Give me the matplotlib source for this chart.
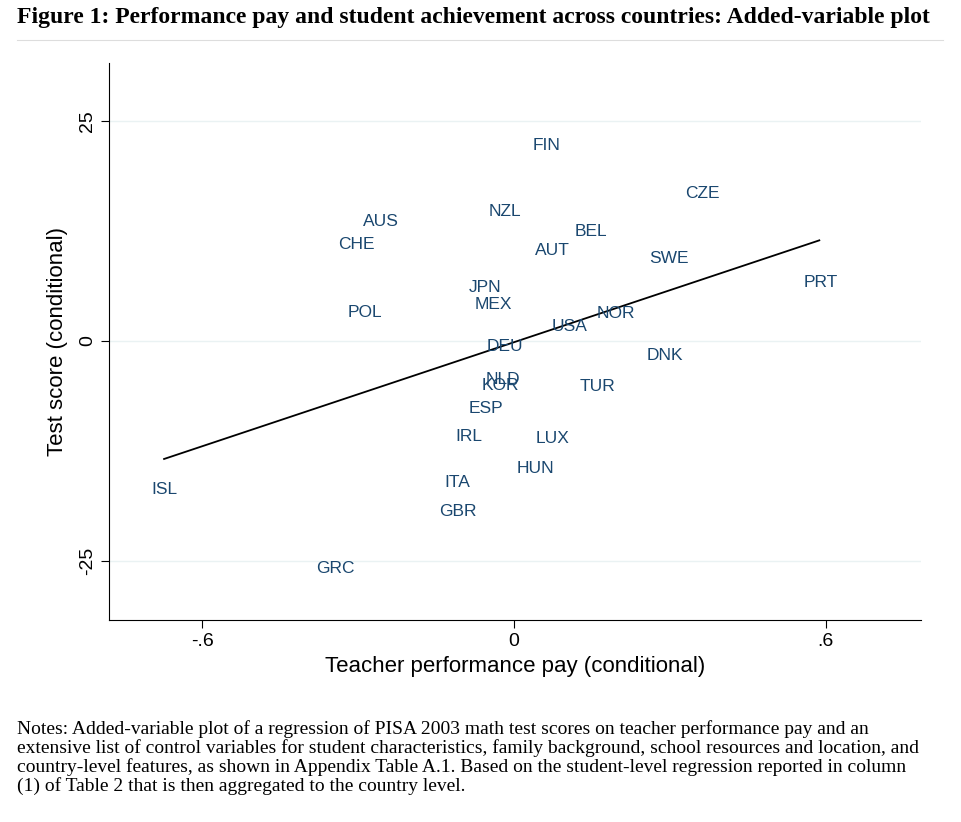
import matplotlib.pyplot as plt

countries = ["FIN", "CZE", "AUS", "NZL", "BEL", "CHE", "AUT", "SWE", "PRT", "JPN",
             "MEX", "POL", "NOR", "USA", "DEU", "DNK", "NLD", "KOR", "TUR", "ESP",
             "IRL", "LUX", "HUN", "ISL", "ITA", "GBR", "GRC"]
pay = [0.063, 0.362, -0.256, -0.017, 0.148, -0.302, 0.075, 0.298, 0.590, -0.056,
       -0.040, -0.287, 0.196, 0.108, -0.017, 0.290, -0.021, -0.025, 0.162, -0.054,
       -0.087, 0.075, 0.042, -0.673, -0.108, -0.108, -0.344]
score = [22.2, 16.8, 13.6, 14.7, 12.4, 11.0, 10.3, 9.4, 6.7, 6.1,
         4.1, 3.3, 3.1, 1.6, -0.6, -1.6, -4.4, -5.1, -5.2, -7.7,
         -10.8, -11.1, -14.5, -16.9, -16.1, -19.4, -25.8]
fit_x = [-0.673, 0.588]
slope, intercept = 19.7, -0.14

fig = plt.figure(figsize=(9.62, 8.22), dpi=100)
serif = "Liberation Serif"
sans = "Liberation Sans"

fig.text(0.018, 0.979, "Figure 1: Performance pay and student achievement across countries: Added-variable plot",
         family=serif, weight="bold", fontsize=17, va="center")
fig.add_artist(plt.Line2D([0.018, 0.98], [0.951, 0.951], color="#dddddd", lw=0.8))

ax = fig.add_axes([0.1133, 0.2457, 0.8437, 0.6777])
ax.set_xlim(-0.779, 0.783)
ax.set_ylim(-31.7, 31.6)
for x, y, c in zip(pay, score, countries):
    ax.text(x, y, c, ha="center", va="center", color="#1a476f", family=sans, fontsize=12.5)
ax.plot(fit_x, [slope * v + intercept for v in fit_x], color="black", lw=1.3)

ax.set_xticks([-0.6, 0, 0.6])
ax.set_xticklabels(["-.6", "0", ".6"])
ax.set_yticks([-25, 0, 25])
ax.set_yticklabels(["-25", "0", "25"], rotation=90, va="center")
ax.grid(axis="y", color="#eaf2f3", lw=1)
ax.set_axisbelow(True)
for s in ["top", "right"]:
    ax.spines[s].set_visible(False)
ax.tick_params(labelsize=14, length=6, color="black")
for lab in ax.get_xticklabels() + ax.get_yticklabels():
    lab.set_family(sans)
ax.set_xlabel("Teacher performance pay (conditional)", family=sans, fontsize=16, labelpad=4)
ax.set_ylabel("Test score (conditional)", family=sans, fontsize=16, labelpad=8)

notes = ["Notes: Added-variable plot of a regression of PISA 2003 math test scores on teacher performance pay and an",
         "extensive list of control variables for student characteristics, family background, school resources and location, and",
         "country-level features, as shown in Appendix Table A.1. Based on the student-level regression reported in column",
         "(1) of Table 2 that is then aggregated to the country level."]
for i, line in enumerate(notes):
    fig.text(0.018, 0.113 - i * 0.0231, line, family=serif, fontsize=14, va="center")

plt.savefig("out.png", dpi=100)
